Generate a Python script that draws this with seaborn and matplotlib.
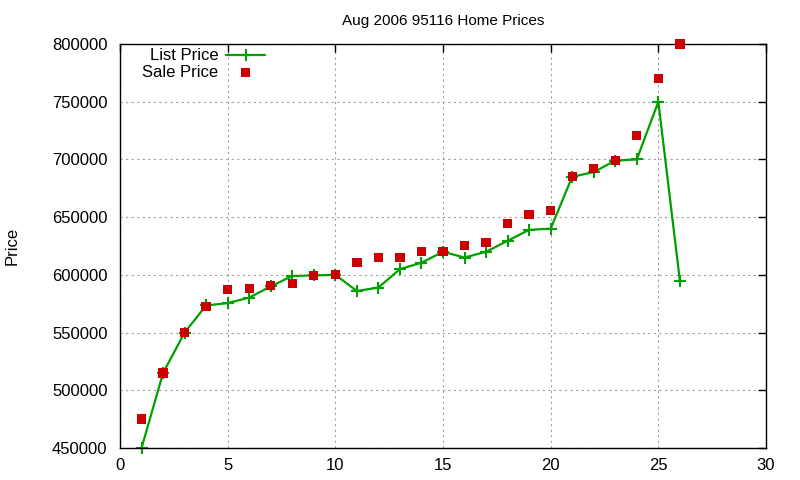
import matplotlib
matplotlib.use("Agg")
import matplotlib.pyplot as plt
import seaborn as sns
import pandas as pd
from matplotlib.ticker import MultipleLocator, FormatStrFormatter

idx = list(range(1, 27))
list_price = [450000, 515000, 550000, 573500, 575500, 580300, 590000, 599000, 599500, 600000,
              586000, 589000, 605000, 610500, 620000, 615000, 620000, 629500, 639000, 640000,
              685000, 689000, 699000, 700000, 750000, 595000]
sale_price = [475000, 515000, 550000, 572800, 587500, 588400, 591000, 592700, 599600, 600500,
              611000, 615300, 615000, 620500, 620000, 625700, 628000, 644700, 652500, 655800,
              685300, 692300, 698800, 721000, 770000, 800000]

df = pd.DataFrame({"idx": idx, "List Price": list_price, "Sale Price": sale_price})

sns.set_style("white")
plt.rcParams['font.family'] = ['Liberation Sans', 'DejaVu Sans']
plt.rcParams['text.color'] = 'black'
plt.rcParams['xtick.color'] = 'black'
plt.rcParams['ytick.color'] = 'black'
plt.rcParams['axes.labelcolor'] = 'black'

fig = plt.figure(figsize=(8, 4.8), dpi=100)
ax = fig.add_axes([0.15, 0.0667, 0.8075, 0.8416])

green = "#00a000"
red = "#cc0000"

sns.lineplot(data=df, x="idx", y="List Price", ax=ax, color=green, linewidth=1.6,
             marker="+", markersize=9, markeredgewidth=1.5, markeredgecolor=green,
             label="List Price", clip_on=False)
sns.scatterplot(data=df, x="idx", y="Sale Price", ax=ax, color=red, marker="s", s=45,
                edgecolor="none", label="Sale Price", clip_on=False, zorder=3)

ax.set_xlim(0, 30)
ax.set_ylim(450000, 800000)
ax.xaxis.set_major_locator(MultipleLocator(5))
ax.yaxis.set_major_locator(MultipleLocator(50000))
ax.yaxis.set_major_formatter(FormatStrFormatter("%d"))
ax.grid(True, color="#a0a0a0", linestyle=(0, (2, 3)), linewidth=0.8)
ax.tick_params(direction="in", length=6, top=True, right=True, labelsize=12, width=1)
ax.tick_params(axis="x", pad=7)
ax.tick_params(axis="y", pad=9)
for s in ax.spines.values():
    s.set_color("black")
    s.set_linewidth(1)
ax.set_xlabel("")
ax.set_ylabel("Price", fontsize=12, va="center")
ax.yaxis.set_label_coords(-0.167, 0.5)
ax.set_title("Aug 2006 95116 Home Prices", fontsize=11, pad=14)

leg = ax.legend(loc="upper left", bbox_to_anchor=(0.016, 1.018), markerfirst=False, frameon=False,
                fontsize=12, handlelength=2.3, labelspacing=0.08, borderaxespad=0.3,
                handletextpad=0.5)
for t in leg.get_texts():
    t.set_ha("right")
fig.savefig("out.png", dpi=100)
